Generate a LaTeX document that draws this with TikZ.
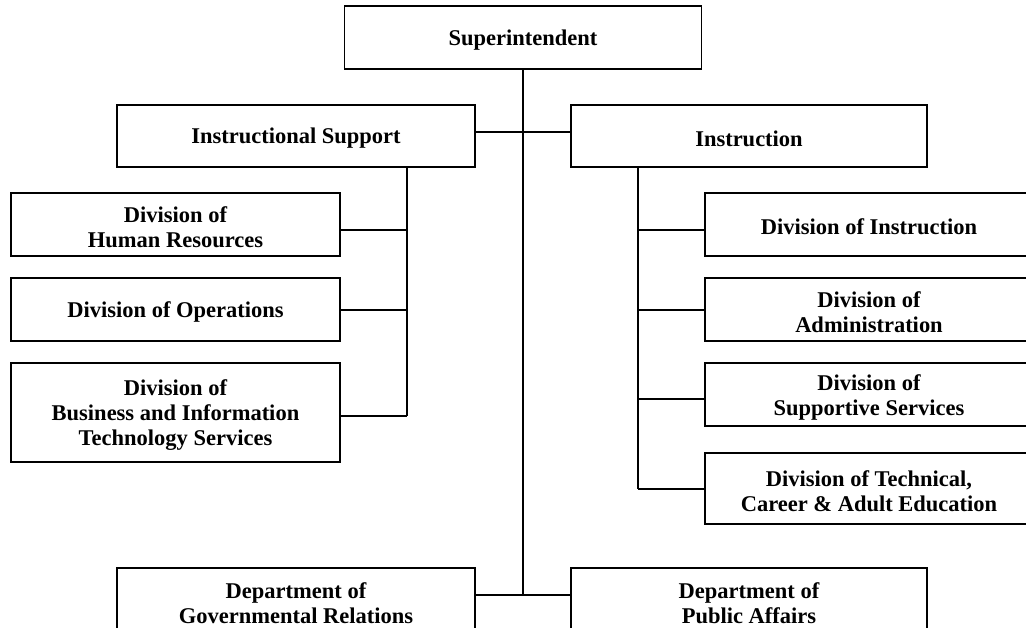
\documentclass[tikz,border=0pt]{standalone}
\usepackage{fontspec}
\setmainfont{Liberation Serif}
\begin{document}
\begin{tikzpicture}[x=1pt,y=-1pt,
  box/.style={draw=black, line width=1.4pt, fill=white, inner sep=0pt},
  lbl/.style={align=center, inner sep=0pt, yshift=-2.5pt,
    font=\fontsize{22.5}{25}\selectfont\bfseries},
  conn/.style={draw=black, line width=1.6pt}]
\useasboundingbox (0,0) rectangle (1026,628);
\clip (0,0) rectangle (1026,628);
\fill[white] (0,0) rectangle (1026,628);

\node[box, minimum width=357pt, minimum height=63pt, label={[lbl]center:Superintendent}] (sup) at (523,37.5) {};
\node[box, minimum width=358pt, minimum height=62pt, label={[lbl]center:Instructional Support}] (is) at (296,136) {};
\node[box, minimum width=356pt, minimum height=62pt, label={[lbl]center:Instruction}] (in) at (749,136) {};

\node[box, minimum width=329pt, minimum height=63pt, label={[lbl]center:{Division of\\Human Resources}}] (hr) at (175.5,224.5) {};
\node[box, minimum width=329pt, minimum height=63pt, label={[lbl]center:Division of Operations}] (ops) at (175.5,309.5) {};
\node[box, minimum width=329pt, minimum height=99pt, label={[lbl]center:{Division of\\Business and Information\\Technology Services}}] (bus) at (175.5,412.5) {};

\node[box, minimum width=328pt, minimum height=63pt, label={[lbl]center:Division of Instruction}] (di) at (869,224.5) {};
\node[box, minimum width=328pt, minimum height=63pt, label={[lbl]center:{Division of\\Administration}}] (adm) at (869,309.5) {};
\node[box, minimum width=328pt, minimum height=63pt, label={[lbl]center:{Division of\\Supportive Services}}] (sus) at (869,394.5) {};
\node[box, minimum width=328pt, minimum height=71pt, label={[lbl]center:{Division of Technical,\\Career \& Adult Education}}] (tec) at (869,488.5) {};

\node[box, minimum width=358pt, minimum height=66pt, label={[lbl]center:{Department of\\Governmental Relations}}] (gov) at (296,601) {};
\node[box, minimum width=356pt, minimum height=66pt, label={[lbl]center:{Department of\\Public Affairs}}] (pub) at (749,601) {};

\coordinate (tb) at (523,595);
\coordinate (lb) at (407,167);
\coordinate (rb) at (638,167);

% trunk
\draw[conn] (sup.south) -- (tb);
\draw[conn] ([yshift=4pt]is.east) -- ([yshift=4pt]in.west);
\draw[conn] ([yshift=6pt]gov.east) -- ([yshift=6pt]pub.west);

% left bus
\draw[conn] (lb) -- (lb |- 0,416);
\draw[conn] ([yshift=-5.5pt]hr.east) -- ([yshift=-5.5pt]hr.east -| lb);
\draw[conn] ([yshift=-0.5pt]ops.east) -- ([yshift=-0.5pt]ops.east -| lb);
\draw[conn] ([yshift=-3.5pt]bus.east) -- ([yshift=-3.5pt]bus.east -| lb);

% right bus
\draw[conn] (rb) -- (rb |- 0,489);
\draw[conn] ([yshift=-5.5pt]di.west) -- ([yshift=-5.5pt]di.west -| rb);
\draw[conn] ([yshift=-0.5pt]adm.west) -- ([yshift=-0.5pt]adm.west -| rb);
\draw[conn] ([yshift=-4.5pt]sus.west) -- ([yshift=-4.5pt]sus.west -| rb);
\draw[conn] ([yshift=-0.5pt]tec.west) -- ([yshift=-0.5pt]tec.west -| rb);
\end{tikzpicture}
\end{document}
